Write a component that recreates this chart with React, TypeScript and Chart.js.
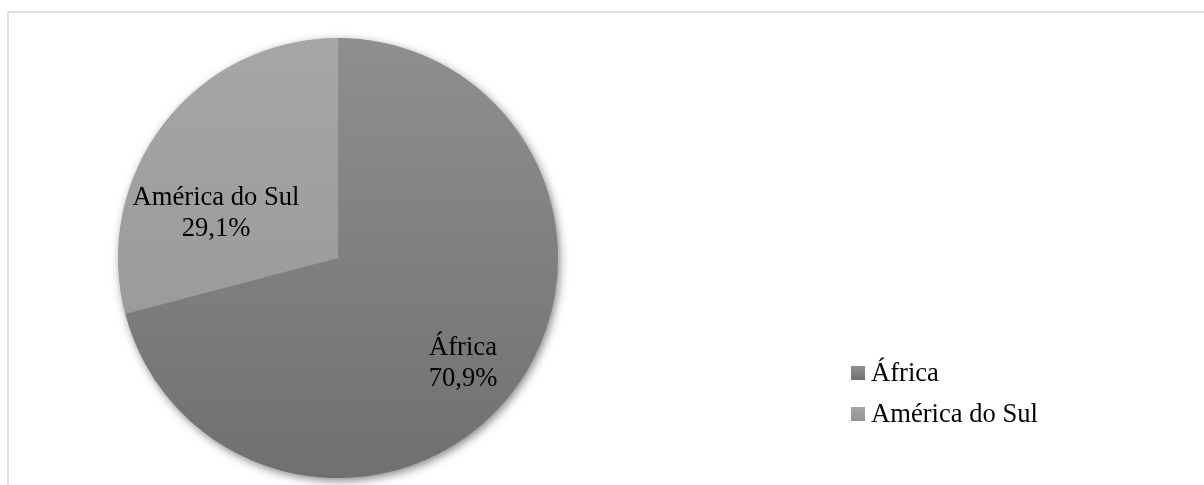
import React, { useEffect, useRef } from "react";
import { Chart, registerables } from "chart.js";

Chart.register(...registerables);

const categories = ["África", "América do Sul"];
const shares = [70.9, 29.1];
const shareLabels = ["70,9%", "29,1%"];

const FONT = '26.6px "Liberation Serif", "Times New Roman", serif';
const topColors = ["#8f8f8f", "#a6a6a6"];
const bottomColors = ["#707070", "#949494"];
// label placement: fraction along arc angle, fraction of radius
const labelAngleFrac = [0.517, 0.304];
const labelRadiusFrac = [0.764, 0.58];

const framePlugin = {
  id: "frame",
  beforeDraw(chart: any) {
    const ctx = chart.ctx;
    ctx.save();
    ctx.fillStyle = "#ffffff";
    ctx.fillRect(0, 0, chart.width, chart.height);
    ctx.strokeStyle = "#d9d9d9";
    ctx.lineWidth = 1.6;
    ctx.strokeRect(8, 12, chart.width + 20, chart.height + 20);
    ctx.restore();
  },
};

const shadowPlugin = {
  id: "pieShadow",
  beforeDatasetsDraw(chart: any) {
    const meta = chart.getDatasetMeta(0);
    const arc = meta.data[0];
    if (!arc) return;
    const ctx = chart.ctx;
    ctx.save();
    ctx.shadowColor = "rgba(0,0,0,0.5)";
    ctx.shadowBlur = 10;
    ctx.shadowOffsetX = 2;
    ctx.shadowOffsetY = 3;
    ctx.fillStyle = "#808080";
    ctx.beginPath();
    ctx.arc(arc.x, arc.y, arc.outerRadius - 0.5, 0, Math.PI * 2);
    ctx.fill();
    ctx.restore();
  },
};

const labelPlugin = {
  id: "labelsAndLegend",
  afterDatasetsDraw(chart: any) {
    const ctx = chart.ctx;
    const meta = chart.getDatasetMeta(0);
    ctx.save();
    ctx.font = FONT;
    ctx.fillStyle = "#000000";
    ctx.textAlign = "center";
    ctx.textBaseline = "alphabetic";
    meta.data.forEach((arc: any, i: number) => {
      const a = arc.startAngle + labelAngleFrac[i] * (arc.endAngle - arc.startAngle);
      const r = labelRadiusFrac[i] * arc.outerRadius;
      const x = arc.x + Math.cos(a) * r;
      const y = arc.y + Math.sin(a) * r;
      ctx.fillText(chart.data.labels[i], x, y - 15.5);
      ctx.fillText(shareLabels[i], x, y + 15.5);
    });
    // legend
    const lx = 851;
    const ly0 = 366;
    const step = 41;
    chart.data.labels.forEach((lab: string, i: number) => {
      const y = ly0 + i * step;
      const g = ctx.createLinearGradient(0, y, 0, y + 14);
      g.addColorStop(0, topColors[i]);
      g.addColorStop(1, bottomColors[i]);
      ctx.fillStyle = g;
      ctx.fillRect(lx, y, 14, 14);
      ctx.fillStyle = "#000000";
      ctx.textAlign = "left";
      ctx.fillText(lab, lx + 20, y + 15);
    });
    ctx.restore();
  },
};

export default function App() {
  const ref = useRef<HTMLCanvasElement | null>(null);
  useEffect(() => {
    if (!ref.current) return;
    const chart = new Chart(ref.current, {
      type: "pie",
      data: {
        labels: categories,
        datasets: [
          {
            data: shares,
            borderWidth: 0,
            backgroundColor: (c: any) => {
              const area = c.chart.chartArea;
              if (!area) return topColors[c.dataIndex];
              const g = c.chart.ctx.createLinearGradient(0, area.top, 0, area.bottom);
              g.addColorStop(0, topColors[c.dataIndex]);
              g.addColorStop(1, bottomColors[c.dataIndex]);
              return g;
            },
          },
        ],
      },
      options: {
        responsive: false,
        animation: false,
        layout: { padding: { left: 118, right: 646, top: 38, bottom: 7 } },
        plugins: {
          legend: { display: false },
          tooltip: { enabled: false },
        },
      },
      plugins: [framePlugin, shadowPlugin, labelPlugin],
    } as any);
    return () => chart.destroy();
  }, []);
  return (
    <div style={{ position: "fixed", left: 0, top: 0, width: 1204, height: 485 }}>
      <canvas ref={ref} width={1204} height={485} />
    </div>
  );
}
